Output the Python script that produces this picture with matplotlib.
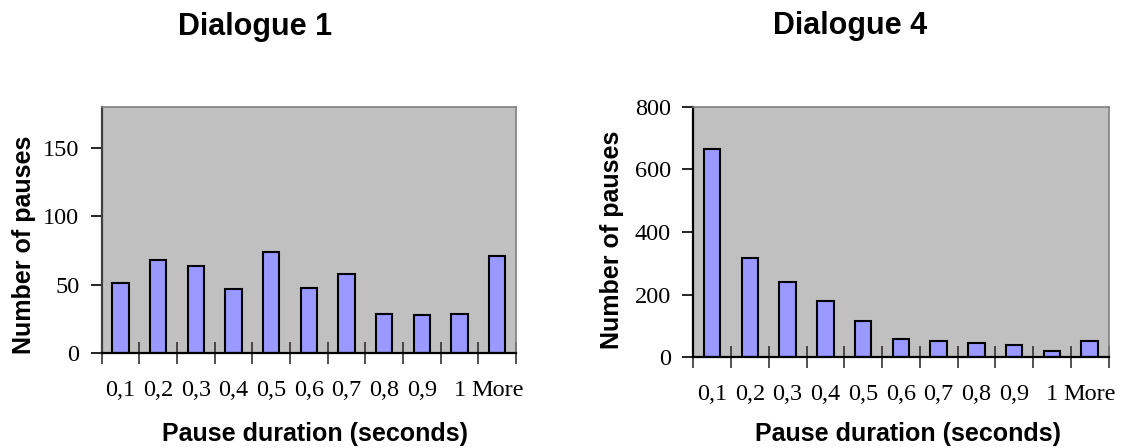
import matplotlib
matplotlib.use("Agg")
import matplotlib.pyplot as plt
import numpy as np

categories = ["0,1", "0,2", "0,3", "0,4", "0,5", "0,6", "0,7", "0,8", "0,9", "1", "More"]
dialogue1 = [51, 68, 64, 47, 74, 48, 58, 29, 28, 29, 71]
dialogue4 = [664, 316, 239, 181, 117, 58, 53, 46, 39, 19, 53]
titles = ["Dialogue 1", "Dialogue 4"]
yticks1 = [0, 50, 100, 150]
yticks4 = [0, 200, 400, 600, 800]
ylims = [180, 800]

W, H = 1123, 448
fig = plt.figure(figsize=(W / 100, H / 100), dpi=100)
fig.patch.set_facecolor("white")

serif = "Liberation Serif"
sans = "Liberation Sans"

def px_axes(x0, y0, x1, y1):
    return fig.add_axes([x0 / W, 1 - y1 / H, (x1 - x0) / W, (y1 - y0) / H])

ax1 = px_axes(101.7, 106.7, 516, 353.3)
ax2 = px_axes(693.3, 106.7, 1108.5, 357.3)

specs = [
    (ax1, dialogue1, yticks1, ylims[0], "#404040"),
    (ax2, dialogue4, yticks4, ylims[1], "black"),
]
for ax, vals, yt, ymax, lcol in specs:
    x = np.arange(len(categories))
    ax.set_facecolor("#C0C0C0")
    ax.bar(x, vals, width=0.44, color="#9999FF", edgecolor="black", linewidth=1.5, zorder=3)
    ax.set_xlim(-0.5, len(categories) - 0.5)
    ax.set_ylim(0, ymax)
    ax.set_yticks(yt)
    ax.set_yticklabels([str(v) for v in yt], fontfamily=serif, fontsize=17.5)
    ax.set_xticks(x)
    ax.set_xticklabels(categories, fontfamily=serif, fontsize=17.5)
    ax.set_xticks(np.arange(len(categories) + 1) - 0.5, minor=True)
    ax.tick_params(axis="x", which="major", length=0, pad=19)
    ax.tick_params(axis="x", which="minor", direction="inout", length=16, width=1.2, color="#333333")
    ax.tick_params(axis="y", which="major", direction="out", length=8, width=1.2, pad=8)
    for s in ["top", "right"]:
        ax.spines[s].set_color("#808080")
        ax.spines[s].set_linewidth(1.2)
    ax.spines["left"].set_color(lcol)
    ax.spines["left"].set_linewidth(1.6)
    ax.spines["bottom"].set_color("black")
    ax.spines["bottom"].set_linewidth(1.6)
    ax.spines["bottom"].set_zorder(4)

fig.text(255 / W, 1 - 27 / H, titles[0], ha="center", va="center",
         fontfamily=sans, fontweight="bold", fontsize=22)
fig.text(850 / W, 1 - 26 / H, titles[1], ha="center", va="center",
         fontfamily=sans, fontweight="bold", fontsize=22)

fig.text(315 / W, 1 - 434 / H, "Pause duration (seconds)", ha="center", va="center",
         fontfamily=sans, fontweight="bold", fontsize=18)
fig.text(908 / W, 1 - 434 / H, "Pause duration (seconds)", ha="center", va="center",
         fontfamily=sans, fontweight="bold", fontsize=18)

fig.text(24 / W, 1 - 245 / H, "Number of pauses", ha="center", va="center", rotation=90,
         fontfamily=sans, fontweight="bold", fontsize=18)
fig.text(612 / W, 1 - 240 / H, "Number of pauses", ha="center", va="center", rotation=90,
         fontfamily=sans, fontweight="bold", fontsize=18)

fig.savefig("out.png", dpi=100, facecolor="white")
